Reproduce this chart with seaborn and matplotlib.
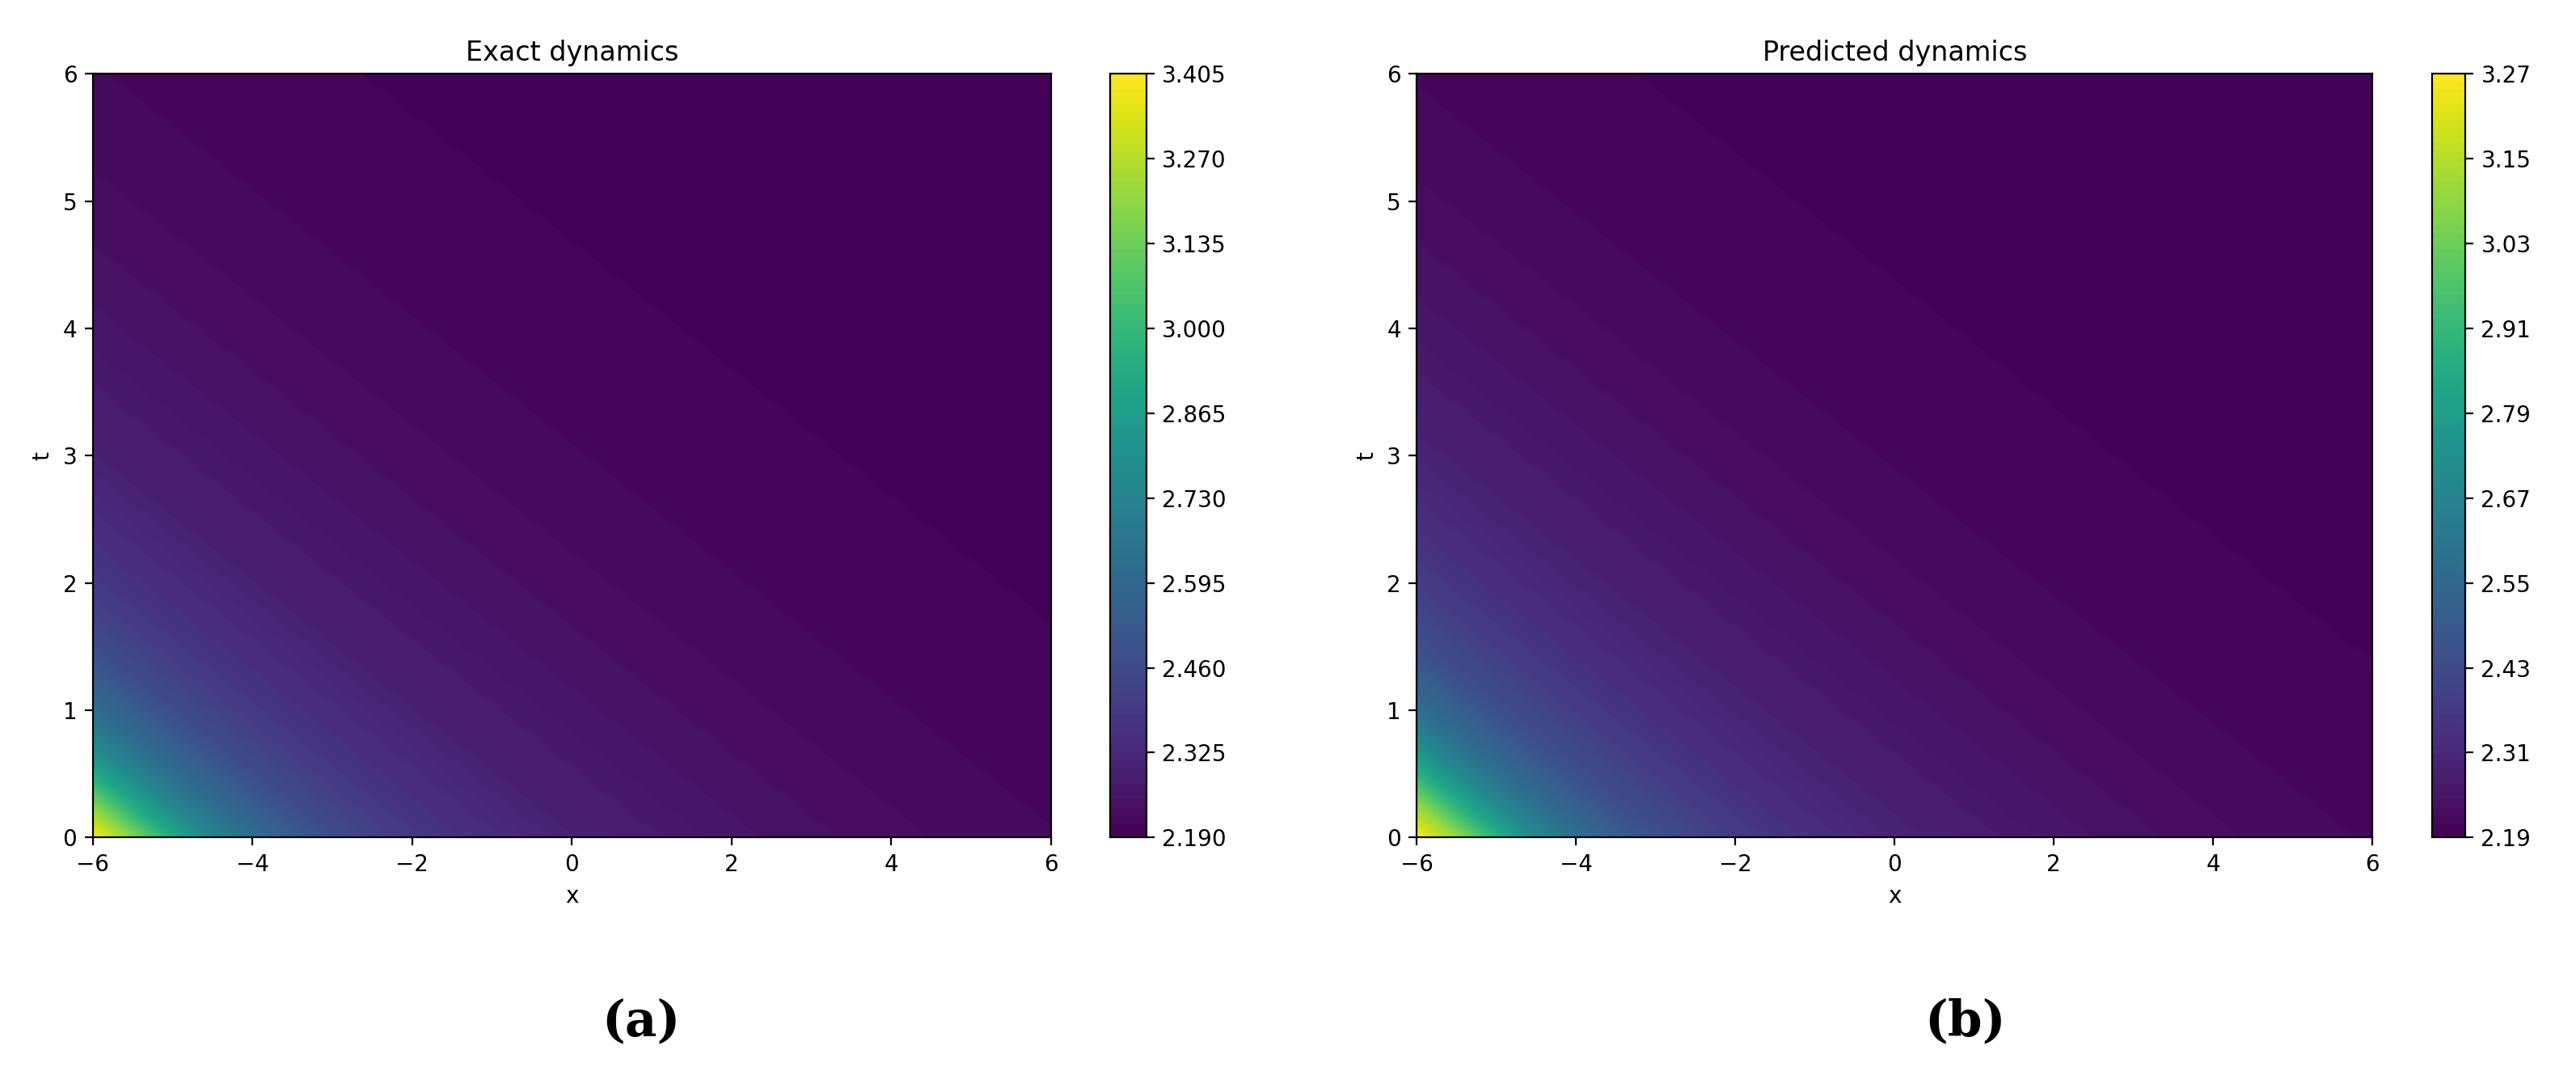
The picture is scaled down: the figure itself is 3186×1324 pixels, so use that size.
import numpy as np
import seaborn as sns
import matplotlib.pyplot as plt

sns.set_style("ticks")
plt.rcParams['font.family'] = ['DejaVu Sans']
plt.rcParams.update({'text.color': 'black', 'axes.labelcolor': 'black',
                     'xtick.color': 'black', 'ytick.color': 'black',
                     'axes.edgecolor': 'black'})

# profile of u along s = x + 2t
s_pts = [-6, -5.5, -5, -4.5, -4, -3, -2, -1, 0, 2, 4, 6, 9, 12, 18]
u_exact = [3.405, 3.18, 2.93, 2.74, 2.62, 2.47, 2.39, 2.34, 2.30, 2.255, 2.23, 2.215, 2.203, 2.196, 2.19]
u_pred = [3.27, 3.10, 2.88, 2.70, 2.58, 2.45, 2.38, 2.33, 2.295, 2.25, 2.225, 2.21, 2.20, 2.195, 2.19]

x = np.linspace(-6, 6, 241)
t = np.linspace(0, 6, 121)
X, T = np.meshgrid(x, t)
S = X + 2 * T

panels = [
    ("Exact dynamics", u_exact, np.round(np.arange(2.19, 3.406, 0.135), 3), "%.3f", "(a)"),
    ("Predicted dynamics", u_pred, np.round(np.arange(2.19, 3.271, 0.12), 2), "%.2f", "(b)"),
]
ax_boxes = [[0.036, 0.218, 0.372, 0.713], [0.550, 0.218, 0.371, 0.713]]
cb_boxes = [[0.431, 0.218, 0.014, 0.713], [0.944, 0.218, 0.013, 0.713]]
lab_x = [0.249, 0.763]

fig = plt.figure(figsize=(15.93, 6.62), dpi=200)
for i, (title, prof, ticks, fmt, lab) in enumerate(panels):
    ax = fig.add_axes(ax_boxes[i])
    cax = fig.add_axes(cb_boxes[i])
    U = np.interp(S, s_pts, prof)
    levels = np.linspace(ticks[0], ticks[-1], 101)
    cf = ax.contourf(X, T, U, levels=levels, cmap="viridis")
    ax.set_title(title, fontsize=12)
    ax.set_xlabel("x")
    ax.set_ylabel("t")
    ax.set_xticks([-6, -4, -2, 0, 2, 4, 6])
    ax.set_yticks(range(7))
    cb = fig.colorbar(cf, cax=cax, ticks=ticks, format=fmt)
    fig.text(lab_x[i], 0.046, lab, ha="center", va="center", fontsize=22,
             family="DejaVu Serif", fontweight="bold")

fig.savefig("out.png", dpi=200)
